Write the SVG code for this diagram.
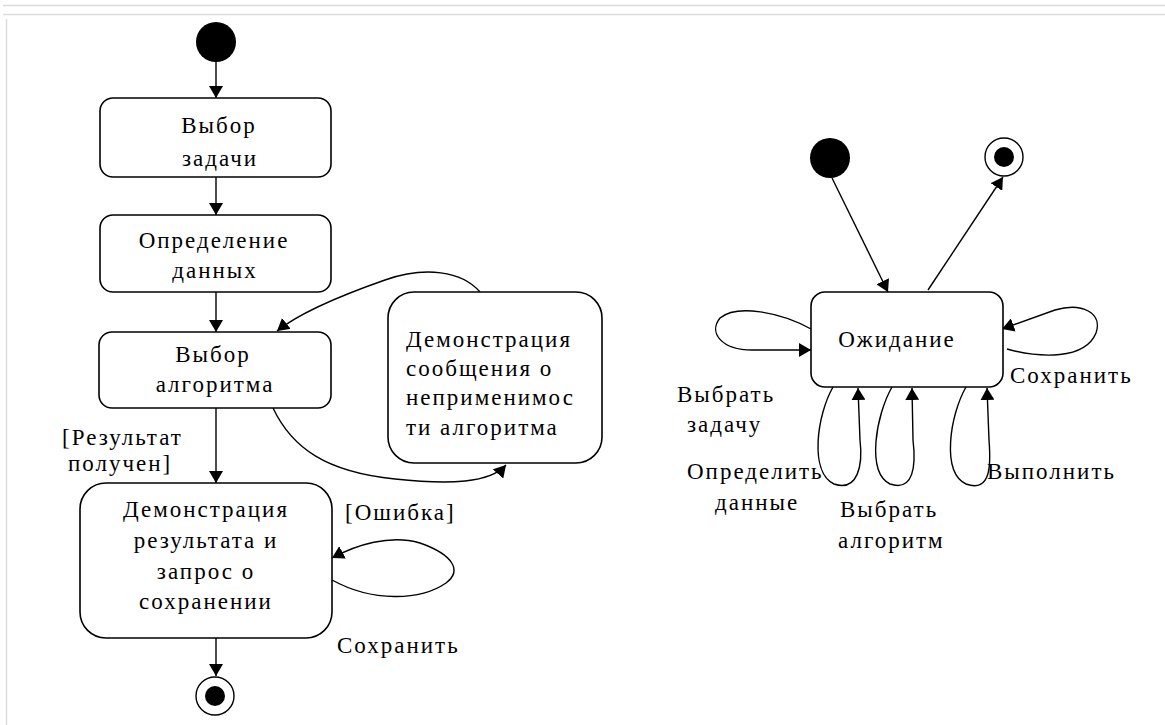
<svg xmlns="http://www.w3.org/2000/svg" width="1165" height="725" viewBox="0 0 1165 725">
  <style>
    .frame { stroke: #dcdcdc; stroke-width: 1.5; fill: none; }
    .state { fill: #ffffff; stroke: #000000; stroke-width: 1.6; }
    .edge { fill: none; stroke: #000000; stroke-width: 1.4; marker-end: url(#arrow); }
    .dot { fill: #000000; }
    .ring { fill: #ffffff; stroke: #000000; stroke-width: 1.4; }
    text { font-family: "Liberation Serif", "Times New Roman", serif; font-size: 23px; fill: #000000; letter-spacing: 2px; }
    .c { text-anchor: middle; }
  </style>
  <defs>
    <marker id="arrow" viewBox="0 0 12 14" markerWidth="12" markerHeight="14" refX="12" refY="7" orient="auto" markerUnits="userSpaceOnUse">
      <path d="M0,0 L12,7 L0,14 z" fill="#000000"/>
    </marker>
  </defs>

  <rect width="1165" height="725" fill="#ffffff"/>
  <!-- page frame lines -->
  <path class="frame" d="M3,5.5 H1165 M3,14.5 H1165 M6.5,19 V725"/>

  <!-- connectors -->
  <g id="connectors">
    <path class="edge" d="M216,62 V98"/>
    <path class="edge" d="M216,177 V215"/>
    <path class="edge" d="M216,292 V332"/>
    <path class="edge" d="M216,408 V483"/>
    <path class="edge" d="M216,638 V676"/>
    <!-- not applicable branch -->
    <path class="edge" d="M273,408 C292,448 326,472 395,479 C450,485 490,483 506,465"/>
    <path class="edge" d="M480,292 C462,271 425,266 385,280 C345,294 302,311 277,331"/>
    <!-- save self-transition -->
    <path class="edge" d="M332,580 C372,602 420,601 446,583 C462,571 454,555 420,543 C390,534 356,545 332,558"/>

    <!-- waiting state machine -->
    <path class="edge" d="M832,178 L888,292"/>
    <path class="edge" d="M928,290 L1003,177"/>
    <path class="edge" d="M811,329 C780,312 737,304 720,318 C708,333 722,350 752,350 L811,350"/>
    <path class="edge" d="M1007,349 C1040,358 1085,360 1096,333 C1103,313 1082,302 1055,310 L1002,329"/>
    <path class="edge" d="M833,387 C817,415 809,472 834,484 C858,492 863,465 860,440 L858,388"/>
    <path class="edge" d="M892,387 C876,415 866,472 890,484 C914,492 916,465 913,440 L912,388"/>
    <path class="edge" d="M966,387 C950,415 941,472 966,484 C991,493 991,465 989,440 L987,388"/>
  </g>

  <!-- left diagram -->
  <g id="start-left">
    <circle class="dot" cx="216" cy="42" r="20"/>
  </g>
  <g id="select-task">
    <rect class="state" x="100" y="98" width="231" height="79" rx="13"/>
    <text class="c" x="219" y="133">Выбор</text>
    <text class="c" x="220" y="166">задачи</text>
  </g>
  <g id="define-data">
    <rect class="state" x="100" y="215" width="231" height="77" rx="13"/>
    <text class="c" x="214" y="248">Определение</text>
    <text class="c" x="215" y="278">данных</text>
  </g>
  <g id="select-algorithm">
    <rect class="state" x="99" y="332" width="232" height="76" rx="13"/>
    <text class="c" x="213" y="362">Выбор</text>
    <text class="c" x="215" y="392">алгоритма</text>
  </g>
  <g id="show-not-applicable">
    <rect class="state" x="388" y="292" width="214" height="171" rx="26"/>
    <text x="406" y="347">Демонстрация</text>
    <text x="406" y="376">сообщения о</text>
    <text x="406" y="405">неприменимос</text>
    <text x="406" y="435">ти алгоритма</text>
  </g>
  <g id="show-result">
    <rect class="state" x="80" y="483" width="252" height="155" rx="26"/>
    <text class="c" x="206" y="517">Демонстрация</text>
    <text class="c" x="206" y="548">результата и</text>
    <text class="c" x="206" y="579">запрос о</text>
    <text class="c" x="206" y="609">сохранении</text>
  </g>
  <g id="end-left">
    <circle class="ring" cx="215" cy="696" r="19"/>
    <circle class="dot" cx="215" cy="696" r="10"/>
  </g>
  <g id="labels-left">
    <text x="62" y="445">[Результат</text>
    <text x="68" y="471">получен]</text>
    <text x="345" y="520">[Ошибка]</text>
    <text x="337" y="653">Сохранить</text>
  </g>

  <!-- right diagram -->
  <g id="start-right">
    <circle class="dot" cx="830" cy="158" r="20"/>
  </g>
  <g id="end-right">
    <circle class="ring" cx="1004" cy="157" r="19"/>
    <circle class="dot" cx="1004" cy="157" r="10"/>
  </g>
  <g id="waiting">
    <rect class="state" x="811" y="292" width="192" height="95" rx="14"/>
    <text class="c" x="897" y="347">Ожидание</text>
  </g>
  <g id="labels-right">
    <text x="1010" y="383">Сохранить</text>
    <text x="677" y="402">Выбрать</text>
    <text x="687" y="432">задачу</text>
    <text x="687" y="479">Определить</text>
    <text x="715" y="510">данные</text>
    <text x="840" y="517">Выбрать</text>
    <text x="838" y="548">алгоритм</text>
    <text x="987" y="479">Выполнить</text>
  </g>
</svg>
